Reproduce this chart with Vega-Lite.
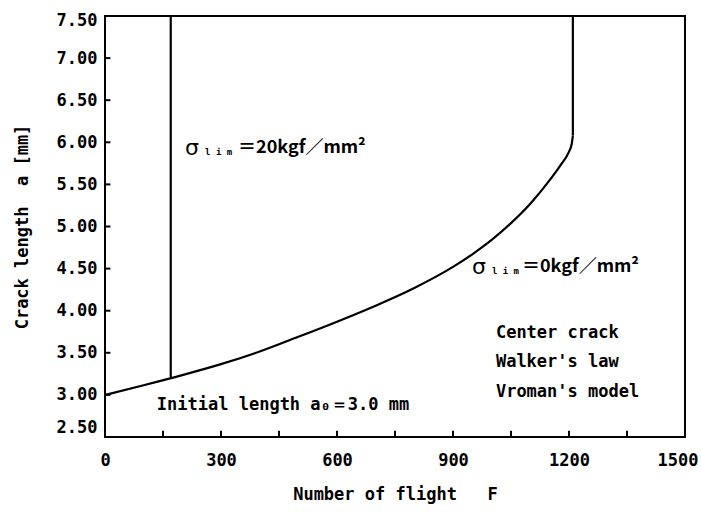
{
  "$schema": "https://vega.github.io/schema/vega-lite/v6.json",
  "width": 580,
  "height": 421,
  "autosize": "none",
  "padding": {"left": 105, "top": 16, "right": 16, "bottom": 79},
  "background": "white",
  "config": {
    "view": {"stroke": "black", "strokeWidth": 2},
    "axis": {
      "grid": false,
      "domain": false,
      "ticks": false,
      "labelFont": "DejaVu Sans Mono",
      "labelFontWeight": "bold",
      "labelFontSize": 17,
      "labelColor": "black",
      "titleFont": "DejaVu Sans Mono",
      "titleFontWeight": "bold",
      "titleFontSize": 17,
      "titleColor": "black"
    }
  },
  "datasets": {
    "curve": [
      {"F": 0, "a": 3.0},
      {"F": 100, "a": 3.115},
      {"F": 200, "a": 3.235},
      {"F": 300, "a": 3.365},
      {"F": 400, "a": 3.515},
      {"F": 500, "a": 3.69},
      {"F": 600, "a": 3.87},
      {"F": 700, "a": 4.06},
      {"F": 800, "a": 4.27},
      {"F": 900, "a": 4.52},
      {"F": 950, "a": 4.67},
      {"F": 1000, "a": 4.84},
      {"F": 1050, "a": 5.04},
      {"F": 1100, "a": 5.27},
      {"F": 1150, "a": 5.55},
      {"F": 1180, "a": 5.74},
      {"F": 1200, "a": 5.89},
      {"F": 1207, "a": 5.98},
      {"F": 1210, "a": 6.08}
    ],
    "verticals": [
      {"series": "0", "F": 1210, "a": 6.08},
      {"series": "0", "F": 1210, "a": 7.5},
      {"series": "20", "F": 170, "a": 3.21},
      {"series": "20", "F": 170, "a": 7.5}
    ],
    "xticks": [
      {"F": 150}, {"F": 300}, {"F": 450}, {"F": 600}, {"F": 750},
      {"F": 900}, {"F": 1050}, {"F": 1200}, {"F": 1350}
    ],
    "yticks": [
      {"a": 3.0}, {"a": 3.5}, {"a": 4.0}, {"a": 4.5}, {"a": 5.0},
      {"a": 5.5}, {"a": 6.0}, {"a": 6.5}, {"a": 7.0}
    ]
  },
  "layer": [
    {
      "data": {"name": "curve"},
      "mark": {"type": "line", "color": "black", "strokeWidth": 2.2, "interpolate": "monotone"},
      "encoding": {
        "x": {
          "field": "F",
          "type": "quantitative",
          "scale": {"domain": [0, 1500], "nice": false, "zero": false},
          "axis": {
            "title": "Number of flight\u00a0\u00a0\u00a0F",
            "values": [0, 300, 600, 900, 1200, 1500],
            "format": "d",
            "labelPadding": 15,
            "labelAlign": {"condition": {"test": "datum.value == 1500", "value": "right"}, "value": "center"},
            "labelOffset": {"condition": {"test": "datum.value == 1500", "value": 13}, "value": 0},
            "titlePadding": 18
          }
        },
        "y": {
          "field": "a",
          "type": "quantitative",
          "scale": {"domain": [2.5, 7.5], "nice": false, "zero": false},
          "axis": {
            "title": "Crack length\u00a0\u00a0a [mm]",
            "values": [2.5, 3, 3.5, 4, 4.5, 5, 5.5, 6, 6.5, 7, 7.5],
            "format": ".2f",
            "labelPadding": 8,
            "labelOffset": {"condition": [{"test": "datum.value == 2.5", "value": -10}, {"test": "datum.value == 7.5", "value": 4}], "value": 0},
            "titlePadding": 25
          }
        }
      }
    },
    {
      "data": {"name": "verticals"},
      "mark": {"type": "line", "color": "black", "strokeWidth": 2.2},
      "encoding": {
        "x": {"field": "F", "type": "quantitative"},
        "y": {"field": "a", "type": "quantitative"},
        "detail": {"field": "series"}
      }
    },
    {
      "data": {"name": "xticks"},
      "mark": {"type": "rule", "color": "black", "strokeWidth": 2},
      "encoding": {
        "x": {"field": "F", "type": "quantitative"},
        "y": {"datum": 2.5},
        "y2": {"datum": 2.575}
      }
    },
    {
      "data": {"name": "yticks"},
      "mark": {"type": "rule", "color": "black", "strokeWidth": 2},
      "encoding": {
        "y": {"field": "a", "type": "quantitative"},
        "x": {"datum": 0},
        "x2": {"datum": 14}
      }
    },
    {
      "data": {"values": [{"t": "σ"}]},
      "mark": {"type": "text", "align": "left", "baseline": "middle", "font": "DejaVu Sans", "fontSize": 22, "color": "black"},
      "encoding": {"x": {"datum": 207}, "y": {"datum": 5.93}, "text": {"field": "t"}}
    },
    {
      "data": {"values": [{"t": "l i m"}]},
      "mark": {"type": "text", "align": "left", "baseline": "middle", "font": "DejaVu Sans Mono", "fontWeight": "bold", "fontSize": 9, "dx": 20, "dy": 4, "color": "black"},
      "encoding": {"x": {"datum": 207}, "y": {"datum": 5.93}, "text": {"field": "t"}}
    },
    {
      "data": {"values": [{"t": "＝20kgf／mm²"}]},
      "mark": {"type": "text", "align": "left", "baseline": "middle", "font": "Noto Sans CJK JP", "fontWeight": "bold", "fontSize": 18, "dx": 53, "color": "black"},
      "encoding": {"x": {"datum": 207}, "y": {"datum": 5.93}, "text": {"field": "t"}}
    },
    {
      "data": {"values": [{"t": "σ"}]},
      "mark": {"type": "text", "align": "left", "baseline": "middle", "font": "DejaVu Sans", "fontSize": 22, "color": "black"},
      "encoding": {"x": {"datum": 949}, "y": {"datum": 4.52}, "text": {"field": "t"}}
    },
    {
      "data": {"values": [{"t": "l i m"}]},
      "mark": {"type": "text", "align": "left", "baseline": "middle", "font": "DejaVu Sans Mono", "fontWeight": "bold", "fontSize": 9, "dx": 20, "dy": 4, "color": "black"},
      "encoding": {"x": {"datum": 949}, "y": {"datum": 4.52}, "text": {"field": "t"}}
    },
    {
      "data": {"values": [{"t": "＝0kgf／mm²"}]},
      "mark": {"type": "text", "align": "left", "baseline": "middle", "font": "Noto Sans CJK JP", "fontWeight": "bold", "fontSize": 18, "dx": 50, "color": "black"},
      "encoding": {"x": {"datum": 949}, "y": {"datum": 4.52}, "text": {"field": "t"}}
    },
    {
      "data": {"values": [
        {"t": "Center crack", "F": 1011, "a": 3.74},
        {"t": "Walker's law", "F": 1011, "a": 3.39},
        {"t": "Vroman's model", "F": 1011, "a": 3.03},
        {"t": "Initial length a₀＝3.0 mm", "F": 134, "a": 2.88}
      ]},
      "mark": {"type": "text", "align": "left", "baseline": "middle", "font": "DejaVu Sans Mono", "fontWeight": "bold", "fontSize": 17, "color": "black"},
      "encoding": {
        "x": {"field": "F", "type": "quantitative"},
        "y": {"field": "a", "type": "quantitative"},
        "text": {"field": "t"}
      }
    }
  ]
}
